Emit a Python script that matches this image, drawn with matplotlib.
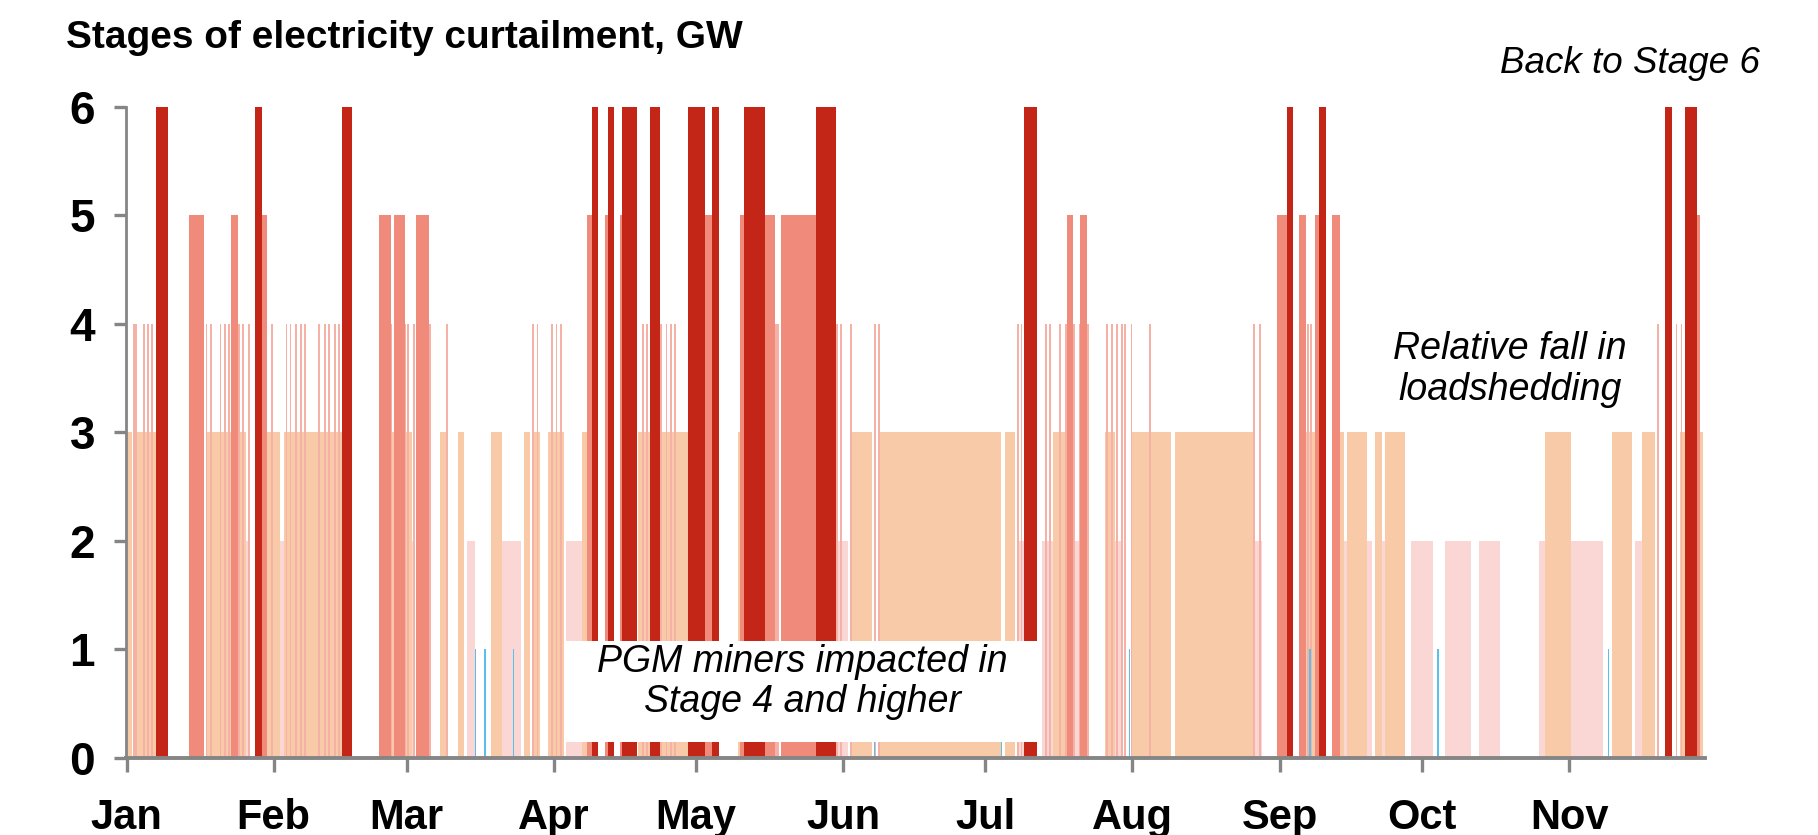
import matplotlib
matplotlib.use('Agg')
import matplotlib.pyplot as plt
from matplotlib.patches import Rectangle


plt.rcParams['font.family'] = ['Liberation Sans', 'DejaVu Sans']

month_labels = ['Jan', 'Feb', 'Mar', 'Apr', 'May', 'Jun', 'Jul', 'Aug', 'Sep', 'Oct', 'Nov']
month_starts = [0, 31, 59, 90, 120, 151, 181, 212, 243, 273, 304]

# spells as (start, end), in days counted from 1 Jan
stage2_spells = [(25.07, 25.99), (32.3, 33.2), (60.1, 60.8), (71.85, 73.4), (79.2, 83.1),
                 (92.6, 95.9), (149.6, 152.1), (187.6, 189.3), (193.0, 195.3), (199.9, 200.9),
                 (207.0, 210.0), (237.4, 239.2), (256.6, 262.4), (264.5, 265.2), (270.7, 275.4),
                 (277.8, 283.4), (285.0, 289.4), (297.6, 299.0), (304.5, 311.2), (317.9, 319.3)]
stage3_spells = [(0.0, 1.05), (1.4, 6.1), (16.85, 25.07), (29.5, 32.3), (33.2, 45.3),
                 (55.7, 60.2), (66.0, 67.6), (69.9, 71.1), (76.9, 79.2), (83.8, 85.0),
                 (85.5, 87.1), (88.9, 92.2), (96.0, 97.4), (107.8, 118.4), (128.9, 130.2),
                 (152.8, 157.1), (158.8, 184.3), (185.1, 187.2), (195.3, 197.7), (206.2, 208.3),
                 (212.0, 220.1), (220.9, 237.4), (248.3, 250.4), (255.7, 256.6), (257.2, 261.5),
                 (263.1, 264.5), (265.2, 269.4), (299.0, 304.5), (313.0, 317.2), (319.3, 322.2),
                 (327.4, 332.3)]
stage4_spells = [(197.7, 199.9), (200.7, 202.8)]
stage4_spikes = [1.54, 2.03, 3.72, 4.56, 5.4, 16.85, 17.77, 19.8, 20.7, 21.56, 23.67, 24.58,
                 25.77, 30.7, 33.7, 34.55, 35.8, 36.7, 37.6, 40.5, 41.8, 42.6, 43.9, 44.7,
                 55.8, 58.6, 59.4, 60.6, 63.9, 67.5, 85.7, 86.6, 89.7, 90.6, 91.5, 108.9,
                 109.6, 112.7, 113.8, 114.8, 115.5, 136.8, 137.3, 149.8, 150.5, 152.6, 157.8,
                 158.5, 187.8, 188.6, 193.7, 194.6, 196.7, 206.7, 207.6, 208.8, 209.7, 210.5,
                 211.8, 215.7, 237.6, 238.8, 248.9, 249.7, 322.8, 326.65, 327.7]
stage5_spells = [(13.13, 16.36), (21.98, 23.53), (28.6, 29.5), (53.2, 55.7), (56.3, 58.65),
                 (60.9, 63.7), (97.1, 98.1), (100.9, 101.5), (104.0, 104.5), (121.9, 123.3),
                 (129.3, 136.6), (138.0, 145.3), (198.1, 199.5), (201.0, 202.5), (242.4, 244.5),
                 (247.1, 248.5), (250.4, 251.3), (254.1, 255.7), (330.5, 331.6)]
stage6_spells = [(6.1, 8.77), (27.11, 28.6), (45.3, 47.55), (98.1, 99.4), (101.5, 102.8),
                 (104.5, 107.5), (110.3, 112.5), (118.4, 121.9), (123.3, 124.8), (130.2, 134.5),
                 (145.3, 149.6), (189.2, 191.8), (244.5, 245.9), (251.3, 252.7), (324.2, 325.6),
                 (328.5, 330.9)]
stage1_spikes = [73.5, 75.5, 81.5, 157.6, 184.4, 211.4, 249.4, 276.4, 312.3]

colours = {1: '#5cbfea', 2: '#fad7d4', 3: '#f9caa7', 4: '#f6b1a7', 5: '#f08a7b', 6: '#c32616'}
axis_grey = '#858585'


def draw_spells(ax, spells, stage):
	starts = [s for s, e in spells]
	widths = [e - s for s, e in spells]
	ax.bar(starts, [stage] * len(spells), width=widths, align='edge',
	       color=colours[stage], linewidth=0)


def draw_spikes(ax, days, stage, width):
	ax.bar(days, [stage] * len(days), width=width, align='center',
	       color=colours[stage], linewidth=0)


fig = plt.figure(figsize=(18.18, 8.35), dpi=100)
ax = fig.add_axes([0.0691, 0.0922, 0.8686, 0.7802])

draw_spells(ax, stage2_spells, 2)
draw_spells(ax, stage3_spells, 3)
draw_spells(ax, stage4_spells, 4)
draw_spikes(ax, stage4_spikes, 4, 0.4)
draw_spells(ax, stage5_spells, 5)
draw_spells(ax, stage6_spells, 6)
draw_spikes(ax, stage1_spikes, 1, 0.3)

ax.set_xlim(-0.2, 332.6)
ax.set_ylim(0, 6)

for side in ['top', 'right']:
	ax.spines[side].set_visible(False)
ax.spines['left'].set_color(axis_grey)
ax.spines['left'].set_linewidth(2.0)
ax.spines['bottom'].set_color(axis_grey)
ax.spines['bottom'].set_linewidth(2.8)
ax.spines['bottom'].set_zorder(5)

ax.set_xticks(month_starts, month_labels)
ax.set_yticks(range(7))
ax.tick_params(axis='x', length=10, width=2.4, color=axis_grey, pad=19, labelsize=30)
ax.tick_params(axis='y', length=9, width=2.4, color=axis_grey, pad=13, labelsize=33)
for lbl in ax.get_xticklabels() + ax.get_yticklabels():
	lbl.set_fontweight('bold')

# white panel behind the mining note
ax.add_patch(Rectangle((92.4, 0.15), 100.3, 0.93, facecolor='white', edgecolor='none', zorder=4))

ax.text(142.5, 0.70, 'PGM miners impacted in\nStage 4 and higher', ha='center', va='center',
        fontsize=27, style='italic', linespacing=1.15, zorder=6)
ax.text(291.5, 3.58, 'Relative fall in\nloadshedding', ha='center', va='center',
        fontsize=27, style='italic', linespacing=1.2)

fig.text(66 / 1818, 1 - 48 / 835, 'Stages of electricity curtailment, GW',
         fontsize=28, fontweight='bold', va='baseline', ha='left')
fig.text(1760 / 1818, 1 - 73 / 835, 'Back to Stage 6',
         fontsize=26.5, style='italic', va='baseline', ha='right')

fig.savefig('out.png', dpi=100)
plt.close()
